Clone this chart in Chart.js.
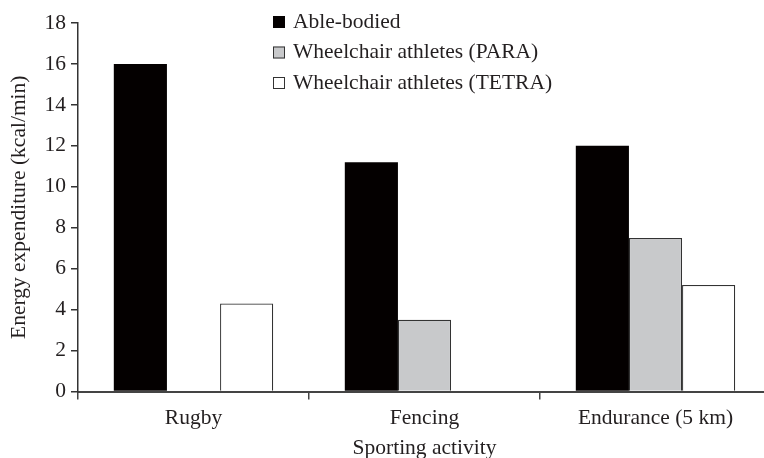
<!DOCTYPE html>
<html>
<head>
<meta charset="utf-8">
<script src="https://cdn.jsdelivr.net/npm/chart.js@4.4.0/dist/chart.umd.min.js"></script>
<style>
  html, body { margin: 0; padding: 0; background: #fff; overflow: hidden; }
  /* plot runs a little past the right edge, as in the figure */
  #wrap { position: relative; width: 771px; height: 458px; }
</style>
</head>
<body>
<div id="wrap"><canvas id="energy-chart"></canvas></div>
<script>
// data
var activities = ["Rugby", "Fencing", "Endurance (5 km)"];
var ableBodied = [16, 11.2, 12];
var paraAthletes = [null, 3.5, 7.5];
var tetraAthletes = [4.3, null, 5.2];
var yMin = 0, yMax = 18, yStep = 2;

var serif = '"Liberation Serif", "DejaVu Serif", serif';
var ink = '#231f20';
var fontSize = 21.5;

// legend drawn inside the plot, top centre
var insideLegend = {
	id: 'insideLegend',
	afterDraw: function (chart) {
		var c = chart.ctx;
		c.save();
		c.font = fontSize + 'px ' + serif;
		c.textBaseline = 'middle';
		chart.data.datasets.forEach(function (ds, i) {
			var y = 22 + i * 30.5;
			c.fillStyle = ds.backgroundColor;
			c.fillRect(273, y - 6, 12, 12);
			c.strokeStyle = ds.borderColor;
			c.lineWidth = 1;
			c.strokeRect(273.5, y - 5.5, 11, 11);
			c.fillStyle = ink;
			c.fillText(ds.label, 293, y);
		});
		c.restore();
	}
};

var ctx = document.getElementById("energy-chart");
var chart = new Chart(ctx, {
	type: 'bar',
	data: {
		labels: activities,
		datasets: [{
			label: 'Able-bodied',
			data: ableBodied,
			backgroundColor: '#040000',
			borderColor: '#040000',
			borderWidth: 0
		}, {
			label: 'Wheelchair athletes (PARA)',
			data: paraAthletes,
			backgroundColor: '#c8c9cb',
			borderColor: '#333333',
			borderWidth: 1.2
		}, {
			label: 'Wheelchair athletes (TETRA)',
			data: tetraAthletes,
			backgroundColor: '#ffffff',
			borderColor: '#333333',
			borderWidth: 1.2
		}]
	},
	options: {
		responsive: true,
		maintainAspectRatio: false,
		animation: false,
		layout: { padding: { top: 23, right: 0, bottom: 0, left: 0 } },
		datasets: { bar: { barPercentage: 1, categoryPercentage: 0.69 } },
		plugins: {
			legend: { display: false },
			tooltip: { enabled: false }
		},
		scales: {
			x: {
				afterFit: function (s) { s.height = 66.5; },
				grid: { offset: true, drawOnChartArea: false, tickLength: 8, color: '#444', lineWidth: 1.5 },
				border: { color: '#444', width: 2 },
				ticks: { color: ink, font: { family: serif, size: fontSize }, padding: 6 },
				title: { display: true, text: 'Sporting activity', color: ink, font: { family: serif, size: fontSize }, padding: { top: 0, bottom: -3 } }
			},
			y: {
				min: yMin,
				max: yMax,
				afterFit: function (s) { s.width = 78; },
				grid: { drawOnChartArea: false, tickLength: 7, color: '#333', lineWidth: 1.5 },
				border: { color: '#333', width: 1.5 },
				ticks: { stepSize: yStep, color: ink, font: { family: serif, size: fontSize }, padding: 5 },
				title: { display: true, text: 'Energy expenditure (kcal/min)', color: ink, font: { family: serif, size: fontSize }, padding: { top: 6, bottom: 0 } }
			}
		}
	},
	plugins: [insideLegend]
});
</script>
</body>
</html>
